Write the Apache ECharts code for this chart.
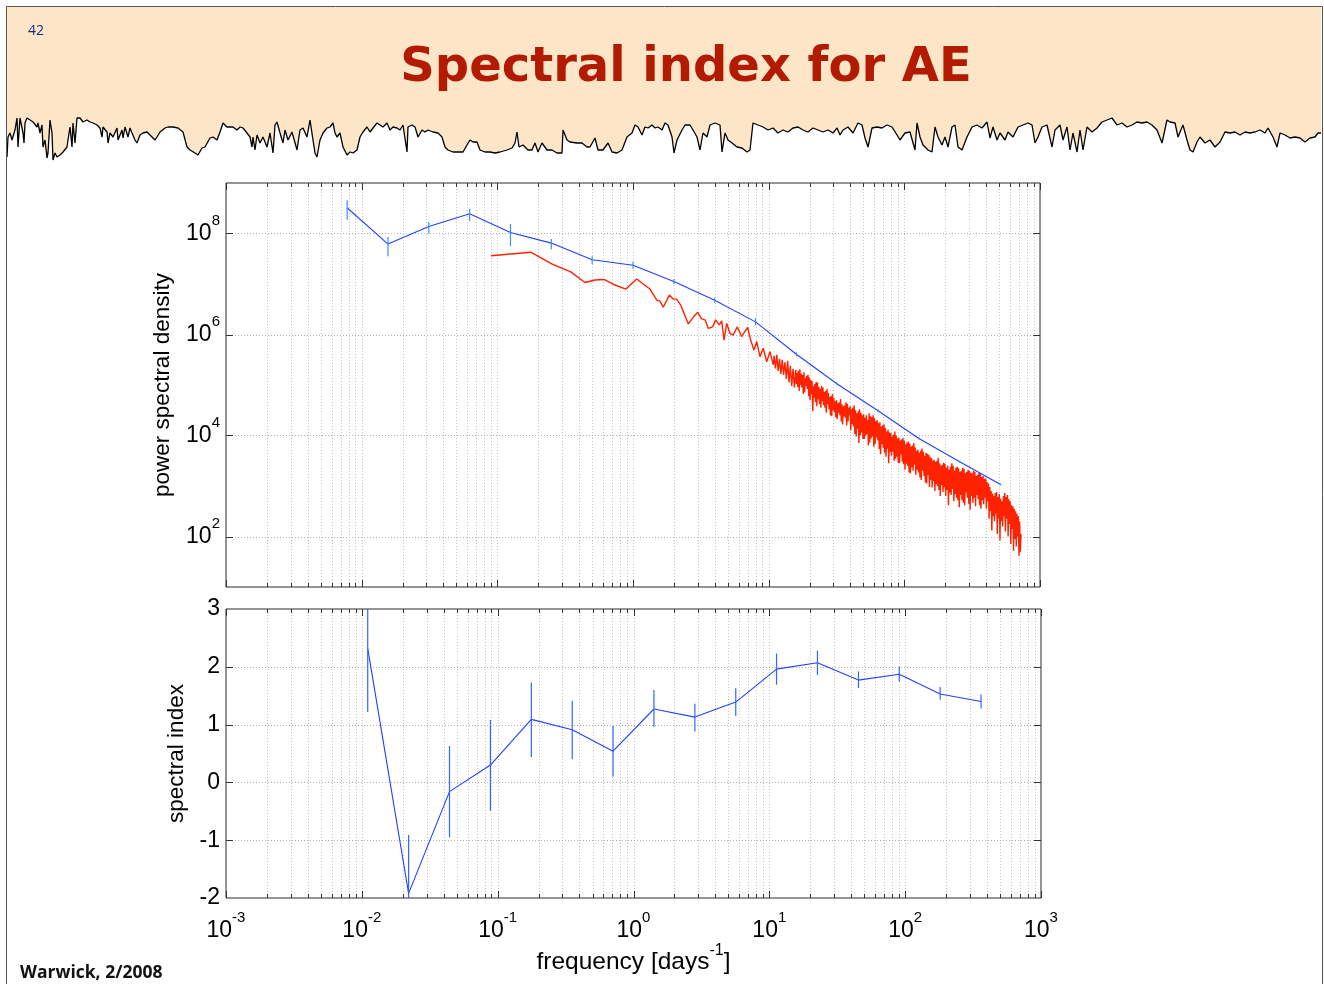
<!DOCTYPE html>
<html><head><meta charset="utf-8">
<script src="https://cdn.jsdelivr.net/npm/echarts@6/dist/echarts.min.js"></script>
<style>html,body{margin:0;padding:0;background:#fff}#c{width:1324px;height:984px}</style>
</head><body><div id="c"></div>
<script>
// ---------- data ----------
// binned PSD (blue), frequency in days^-1, log10 of power
const blueFreq = [0.0078125,0.015625,0.03125,0.0625,0.125,0.25,0.5,1,2,4,8,16,32,64,128,256,512];
const blueLogPSD = [8.51,7.79,8.14,8.39,8.02,7.81,7.48,7.37,7.05,6.68,6.25,5.61,5.02,4.49,3.94,3.48,3.03];
const blueLogLow = [8.27,7.55,8.00,8.25,7.75,7.69,7.39,7.30,7.00,6.63,6.18,5.57,4.99,4.46,3.92,3.46,3.01];
const blueLogHigh = [8.66,7.93,8.23,8.49,8.19,7.89,7.55,7.44,7.10,6.73,6.32,5.65,5.05,4.52,3.97,3.50,3.05];

// raw periodogram (red): log10 frequency, log10 power
const redLogFreq = [
-1.047,-0.754,-0.599,-0.459,-0.354,-0.280,-0.214,-0.133,-0.052,0.027,
0.125,0.175,0.199,0.223,0.268,0.297,0.322,0.352,0.376,0.408,
0.444,0.477,0.506,0.531,0.555,0.587,0.609,0.636,0.654,0.671,
0.691,0.715,0.739,0.769,0.801,0.825,0.845,0.867,0.892,0.912,
0.936,0.960,0.985,1.010,1.034,
1.04,1.05,1.06,1.07,1.08,1.09,
1.10,1.11,1.12,1.13,1.14,1.15,1.16,1.17,1.18,1.19,
1.200,1.205,1.210,1.215,1.220,1.225,1.230,1.235,1.240,1.245,1.250,1.255,1.260,1.265,1.270,1.275,1.280,1.285,1.290,1.295,
1.300,1.305,1.310,1.315,1.320,1.325,1.330,1.335,1.340,1.345,1.350,1.355,1.360,1.365,1.370,1.375,1.380,1.385,1.390,1.395,
1.400,1.405,1.410,1.415,1.420,1.425,1.430,1.435,1.440,1.445,1.450,1.455,1.460,1.465,1.470,1.475,1.480,1.485,1.490,1.495,
1.500,1.505,1.510,1.515,1.520,1.525,1.530,1.535,1.540,1.545,1.550,1.555,1.560,1.565,1.570,1.575,1.580,1.585,1.590,1.595,
1.600,1.605,1.610,1.615,1.620,1.625,1.630,1.635,1.640,1.645,1.650,1.655,1.660,1.665,1.670,1.675,1.680,1.685,1.690,1.695,
1.700,1.705,1.710,1.715,1.720,1.725,1.730,1.735,1.740,1.745,1.750,1.755,1.760,1.765,1.770,1.775,1.780,1.785,1.790,1.795,
1.800,1.805,1.810,1.815,1.820,1.825,1.830,1.835,1.840,1.845,1.850,1.855,1.860,1.865,1.870,1.875,1.880,1.885,1.890,1.895,
1.900,1.905,1.910,1.915,1.920,1.925,1.930,1.935,1.940,1.945,1.950,1.955,1.960,1.965,1.970,1.975,1.980,1.985,1.990,1.995,
2.000,2.005,2.010,2.015,2.020,2.025,2.030,2.035,2.040,2.045,2.050,2.055,2.060,2.065,2.070,2.075,2.080,2.085,2.090,2.095,
2.100,2.105,2.110,2.115,2.120,2.125,2.130,2.135,2.140,2.145,2.150,2.155,2.160,2.165,2.170,2.175,2.180,2.185,2.190,2.195,
2.200,2.205,2.210,2.215,2.220,2.225,2.230,2.235,2.240,2.245,2.250,2.255,2.260,2.265,2.270,2.275,2.280,2.285,2.290,2.295,
2.300,2.305,2.310,2.315,2.320,2.325,2.330,2.335,2.340,2.345,2.350,2.355,2.360,2.365,2.370,2.375,2.380,2.385,2.390,2.395,
2.400,2.405,2.410,2.415,2.420,2.425,2.430,2.435,2.440,2.445,2.450,2.455,2.460,2.465,2.470,2.475,2.480,2.485,2.490,2.495,
2.500,2.505,2.510,2.515,2.520,2.525,2.530,2.535,2.540,2.545,2.550,2.555,2.560,2.565,2.570,2.575,2.580,2.585,2.590,2.595,
2.600,2.605,2.610,2.615,2.620,2.625,2.630,2.635,2.640,2.645,2.650,2.655,2.660,2.665,2.670,2.675,2.680,2.685,2.690,2.695,
2.700,2.705,2.710,2.715,2.720,2.725,2.730,2.735,2.740,2.745,2.750,2.755,2.760,2.765,2.770,2.775,2.780,2.785,2.790,2.795,
2.800,2.805,2.810,2.815,2.820,2.825,2.830,2.835,2.840,2.845,2.850,2.855,2.860];
const redLogPSD = [
7.56,7.63,7.40,7.24,7.03,7.08,7.09,6.98,6.90,7.10,
6.90,6.68,6.66,6.54,6.78,6.70,6.70,6.58,6.42,6.21,
6.34,6.44,6.31,6.29,6.12,6.15,6.29,6.19,6.27,5.89,
6.22,6.02,5.99,6.15,5.96,6.06,6.14,5.89,5.69,5.86,
5.56,5.73,5.46,5.66,5.40,
5.58,5.33,5.60,5.28,5.52,5.22,
5.50,5.20,5.45,5.12,5.48,5.05,5.38,4.98,5.32,4.95,
5.30,5.02,5.24,4.96,5.28,4.88,5.31,5.00,5.22,4.95,5.20,4.82,5.25,4.85,5.14,4.98,5.18,4.92,5.20,4.78,
5.15,4.70,5.10,4.82,5.08,4.48,4.98,4.75,5.02,4.66,5.06,4.58,5.05,4.72,4.96,4.62,4.92,4.55,4.98,4.68,
4.95,4.60,4.86,4.55,4.88,4.45,4.92,4.62,4.84,4.52,4.76,4.40,4.78,4.38,4.82,4.50,4.74,4.46,4.68,4.36,
4.70,4.32,4.64,4.45,4.66,4.40,4.72,4.28,4.62,4.22,4.58,4.38,4.60,4.35,4.66,4.20,4.63,4.28,4.55,4.40,
4.58,4.10,4.52,4.23,4.55,4.18,4.60,4.03,4.50,3.98,4.44,4.13,4.48,3.85,4.52,4.00,4.45,4.06,4.40,3.93,
4.42,3.93,4.35,4.00,4.40,4.03,4.30,3.80,4.44,3.86,4.38,3.94,4.36,3.98,4.40,3.78,4.34,3.83,4.28,3.96,
4.30,3.90,4.24,3.73,4.26,3.63,4.18,3.83,4.20,3.76,4.22,3.66,4.15,3.58,4.08,3.74,4.12,3.45,4.06,3.68,
4.05,3.60,3.98,3.68,4.02,3.50,4.08,3.54,4.00,3.58,3.94,3.46,3.96,3.45,3.90,3.63,3.92,3.48,3.95,3.43,
3.90,3.32,3.82,3.44,3.86,3.40,3.88,3.27,3.84,3.25,3.78,3.37,3.80,3.30,3.85,3.42,3.76,3.22,3.70,3.32,
3.72,3.27,3.66,3.17,3.70,3.12,3.74,3.30,3.68,3.20,3.60,3.07,3.66,3.05,3.64,3.22,3.62,2.98,3.58,3.12,
3.55,2.97,3.50,3.10,3.52,2.90,3.48,3.04,3.50,3.00,3.56,2.92,3.45,2.80,3.40,3.02,3.42,2.88,3.46,2.97,
3.44,2.80,3.36,2.92,3.40,2.62,3.32,2.87,3.38,2.82,3.45,2.94,3.40,2.70,3.30,2.84,3.36,2.77,3.38,2.72,
3.35,2.58,3.28,2.82,3.30,2.72,3.36,2.67,3.34,2.62,3.25,2.87,3.28,2.77,3.32,2.65,3.30,2.53,3.26,2.80,
3.25,2.67,3.30,2.77,3.28,2.60,3.20,2.82,3.22,2.74,3.26,2.62,3.24,2.55,3.18,2.72,3.20,2.64,3.14,2.77,
3.15,2.55,3.08,2.70,3.05,2.35,2.98,2.50,2.90,2.12,2.85,2.40,2.80,2.30,2.86,2.45,2.88,2.05,2.78,2.35,
2.84,1.92,2.75,2.30,2.70,2.20,2.80,2.40,2.86,2.10,2.78,2.35,2.82,2.00,2.74,2.25,2.70,1.85,2.62,2.15,
2.60,1.72,2.55,1.95,2.50,1.80,2.45,2.00,2.40,1.62,2.30,1.70,2.05];

// spectral index (lower panel)
const idxFreq = [0.01105,0.0221,0.0442,0.0884,0.177,0.354,0.707,1.414,2.83,5.66,11.3,22.6,45.3,90.5,181,362];
const idxValue = [2.32,-1.92,-0.16,0.30,1.09,0.91,0.54,1.27,1.13,1.39,1.96,2.07,1.77,1.87,1.53,1.40];
const idxLow = [1.22,-2.93,-0.95,-0.49,0.44,0.40,0.10,0.96,0.88,1.15,1.69,1.86,1.63,1.74,1.43,1.28];
const idxHigh = [3.42,-0.91,0.63,1.08,1.73,1.41,0.98,1.60,1.36,1.63,2.23,2.28,1.92,2.00,1.65,1.52];

// tick values
const psdTickValues = [1e2,1e4,1e6,1e8];
const idxTickValues = [-1,0,1,2];
const decadeExps = [-3,-2,-1,0,1,2];
const decadeMults = [1,2,3,4,5,6,7,8,9];

// AE time series in header: [hour, AE (nT)]
const aeTrace = [
[0,160],[1,560],[3,640],[5,500],[8,700],[10,940],[11,360],[13,940],[15,900],[16,640],
[17,440],[18,840],[20,940],[23,900],[26,860],[28,900],[30,760],[31,840],[33,640],[35,800],
[36,360],[38,500],[40,140],[41,240],[43,900],[45,640],[46,100],[48,240],[50,160],[53,200],
[56,260],[60,360],[61,500],[63,760],[65,360],[66,840],[68,440],[70,940],[73,940],[76,860],
[80,900],[83,860],[86,840],[90,800],[93,740],[95,560],[96,760],[100,660],[101,440],[103,640],
[106,560],[110,740],[111,500],[115,700],[116,540],[118,760],[121,560],[123,740],[125,640],[128,500],
[130,440],[133,600],[136,640],[140,660],[145,560],[148,500],[150,560],[153,660],[158,740],[161,760],
[166,760],[171,740],[176,660],[180,360],[183,300],[188,240],[191,200],[195,340],[198,360],[203,540],
[206,560],[210,500],[213,660],[216,840],[220,760],[226,760],[230,700],[233,760],[236,740],[240,640],
[243,560],[245,360],[246,560],[248,300],[250,600],[253,440],[256,560],[260,360],[263,640],[266,240],
[268,800],[270,860],[273,640],[276,440],[278,700],[281,500],[285,660],[290,300],[293,700],[296,740],
[300,560],[303,900],[305,940],[306,500],[308,240],[310,160],[313,500],[316,640],[320,740],[323,760],
[326,840],[328,640],[330,560],[333,640],[336,360],[340,200],[343,260],[346,240],[350,300],[353,560],
[356,660],[360,760],[363,660],[366,740],[370,840],[373,800],[376,760],[380,840],[383,700],[386,760],
[390,740],[393,700],[396,800],[400,260],[401,760],[405,800],[408,760],[411,560],[415,700],[418,660],
[421,700],[426,660],[431,640],[435,560],[438,360],[441,300],[446,260],[451,260],[456,260],[460,400],
[463,500],[466,460],[470,460],[473,300],[478,260],[483,260],[488,240],[493,260],[500,300],[505,340],
[508,440],[510,660],[512,360],[516,400],[521,300],[525,300],[528,440],[531,260],[535,440],[540,300],
[545,300],[550,240],[555,240],[556,700],[560,500],[563,460],[570,440],[575,440],[580,360],[583,360],
[588,540],[591,300],[596,300],[601,440],[605,260],[610,240],[615,300],[620,560],[625,640],[628,800],
[631,760],[635,600],[638,760],[641,740],[645,800],[648,740],[651,760],[655,700],[658,840],[661,800],
[665,560],[667,240],[670,500],[675,700],[678,800],[683,800],[686,700],[690,560],[693,300],[696,640],
[700,560],[703,800],[708,840],[713,800],[715,260],[718,640],[721,500],[725,440],[730,360],[735,340],
[740,260],[743,300],[746,840],[751,800],[756,760],[761,700],[766,740],[771,640],[776,700],[781,660],
[786,740],[791,760],[796,700],[801,660],[806,740],[811,700],[816,660],[821,700],[826,640],[830,740],
[833,600],[836,700],[841,760],[846,640],[851,840],[855,800],[858,540],[861,360],[865,740],[870,760],
[875,740],[880,800],[885,760],[890,600],[893,500],[898,640],[903,660],[908,300],[910,840],[913,560],
[916,400],[921,300],[925,260],[928,760],[931,560],[935,400],[938,560],[941,360],[945,760],[948,800],
[951,360],[955,300],[960,560],[965,760],[970,800],[975,740],[980,860],[983,540],[986,760],[990,500],
[993,640],[998,500],[1001,660],[1006,560],[1011,760],[1016,800],[1021,840],[1025,800],[1028,440],[1031,560],
[1035,760],[1040,800],[1045,360],[1048,700],[1053,800],[1056,500],[1060,760],[1063,300],[1066,640],[1070,260],
[1073,700],[1076,300],[1080,760],[1085,660],[1090,740],[1095,860],[1100,900],[1105,940],[1110,800],[1115,840],
[1120,760],[1125,800],[1130,860],[1135,840],[1140,860],[1145,800],[1150,700],[1155,440],[1160,900],[1163,860],
[1168,840],[1171,560],[1176,800],[1180,500],[1183,300],[1186,260],[1190,460],[1193,560],[1198,440],[1203,500],
[1208,360],[1213,460],[1218,660],[1223,640],[1228,660],[1233,600],[1238,660],[1243,640],[1248,660],[1253,700],
[1258,640],[1261,740],[1266,560],[1270,360],[1273,640],[1278,600],[1283,540],[1288,560],[1293,540],[1298,460],
[1303,540],[1308,560],[1311,640],[1314,640]];

// ---------- chart ----------
const FONT = "'Liberation Sans', Arial, Helvetica, sans-serif";
const chart = echarts.init(document.getElementById('c'));

function expOf(v){ return Math.round(Math.log10(v)); }
const supRich = {
  b: {fontSize: 23, fontFamily: FONT, color: '#000', lineHeight: 32, verticalAlign: 'bottom'},
  s: {fontSize: 15, fontFamily: FONT, color: '#000', verticalAlign: 'top'}
};

const xTickData = [];
decadeExps.forEach(function(d){
  decadeMults.forEach(function(m){
    xTickData.push([m * Math.pow(10, d), m === 1 ? 1 : 0, (d === -3 && m === 1) ? 1 : 0]);
  });
});
xTickData.push([1000, 1, 1]);

function vDecor(yRef){
  return function(params, api){
    const cs = params.coordSys;
    const x = Math.round(api.coord([api.value(0), yRef])[0]) + 0.5;
    const top = cs.y, bot = cs.y + cs.height;
    const len = api.value(1) ? 7 : 4;
    const ch = [];
    if (!api.value(2)) ch.push({type:'line', shape:{x1:x,y1:top,x2:x,y2:bot}, style:{stroke:'#c2c2c2', lineWidth:1, lineDash:[1,2]}});
    ch.push({type:'line', shape:{x1:x,y1:bot,x2:x,y2:bot-len}, style:{stroke:'#333', lineWidth:1}});
    ch.push({type:'line', shape:{x1:x,y1:top,x2:x,y2:top+len}, style:{stroke:'#333', lineWidth:1}});
    return {type:'group', children:ch};
  };
}
function hDecor(params, api){
  const cs = params.coordSys;
  const y = Math.round(api.coord([api.value(0), api.value(1)])[1]) + 0.5;
  const l = cs.x, r = cs.x + cs.width;
  return {type:'group', children:[
    {type:'line', shape:{x1:l,y1:y,x2:r,y2:y}, style:{stroke:'#b0b0b0', lineWidth:1, lineDash:[1,2]}},
    {type:'line', shape:{x1:l,y1:y,x2:l+7,y2:y}, style:{stroke:'#333', lineWidth:1}},
    {type:'line', shape:{x1:r,y1:y,x2:r-7,y2:y}, style:{stroke:'#333', lineWidth:1}}
  ]};
}
function errBar(color){
  return function(params, api){
    const cs = params.coordSys;
    const a = api.coord([api.value(0), api.value(1)]);
    const b = api.coord([api.value(0), api.value(2)]);
    const lo = cs.y, hi = cs.y + cs.height;
    const y1 = Math.min(Math.max(a[1], lo), hi), y2 = Math.min(Math.max(b[1], lo), hi);
    return {type:'line', shape:{x1:a[0], y1:y1, x2:a[0], y2:y2}, style:{stroke:color, lineWidth:1.2}};
  };
}

const option = {
  backgroundColor: '#fff',
  animation: false,
  grid: [
    {left:226, top:183, width:814, height:404, show:true, borderColor:'#2b2b2b', borderWidth:1, backgroundColor:'rgba(0,0,0,0)', outerBoundsMode:'none'},
    {left:226, top:609, width:815, height:289, show:true, borderColor:'#2b2b2b', borderWidth:1, backgroundColor:'rgba(0,0,0,0)', outerBoundsMode:'none'},
    {left:7, top:7, width:1315, height:158, show:false, outerBoundsMode:'none'}
  ],
  xAxis: [
    {type:'log', logBase:10, gridIndex:0, min:0.001, max:1000, axisLine:{show:false}, axisTick:{show:false}, axisLabel:{show:false}, splitLine:{show:false}},
    {type:'log', logBase:10, gridIndex:1, min:0.001, max:1000, axisLine:{show:false}, axisTick:{show:false}, splitLine:{show:false},
      axisLabel:{margin:12, formatter:function(v){ return '{b|10}{s|' + expOf(v) + '}'; }, rich:supRich},
      name:'{a|frequency [days}{s|-1}{a|]}', nameLocation:'middle', nameGap:45,
      nameTextStyle:{rich:{
        a:{fontSize:24.5, fontFamily:FONT, color:'#000', lineHeight:32, verticalAlign:'bottom'},
        s:{fontSize:16, fontFamily:FONT, color:'#000', verticalAlign:'top'}
      }}},
    {type:'value', gridIndex:2, min:0, max:1315, show:false}
  ],
  yAxis: [
    {type:'log', logBase:10, gridIndex:0, min:10, max:1e9, axisLine:{show:false}, axisTick:{show:false}, splitLine:{show:false},
      axisLabel:{margin:6, padding:[0,0,9,0], formatter:function(v){ const e = expOf(v); return (e % 2) ? '' : '{b|10}{s|' + e + '}'; }, rich:supRich},
      name:'power spectral density', nameLocation:'middle', nameGap:52,
      nameTextStyle:{fontSize:22.5, fontFamily:FONT, color:'#000'}},
    {type:'value', gridIndex:1, min:-2, max:3, interval:1, axisLine:{show:false}, axisTick:{show:false}, splitLine:{show:false},
      axisLabel:{margin:6, fontSize:23, fontFamily:FONT, color:'#000'},
      name:'spectral index', nameLocation:'middle', nameGap:37,
      nameTextStyle:{fontSize:22.5, fontFamily:FONT, color:'#000'}},
    {type:'value', gridIndex:2, min:0, max:3160, show:false}
  ],
  series: [
    {type:'line', xAxisIndex:2, yAxisIndex:2, data:aeTrace, symbol:'none', z:1,
      lineStyle:{color:'#000', width:1.3}, areaStyle:{color:'#fde5c8', opacity:1, origin:'end'}},
    {type:'custom', xAxisIndex:0, yAxisIndex:0, data:xTickData, renderItem:vDecor(1e5), z:1, silent:true},
    {type:'custom', xAxisIndex:0, yAxisIndex:0, data:psdTickValues.map(function(v){ return [1, v]; }), renderItem:hDecor, z:1, silent:true},
    {type:'custom', xAxisIndex:1, yAxisIndex:1, data:xTickData, renderItem:vDecor(0), z:1, silent:true},
    {type:'custom', xAxisIndex:1, yAxisIndex:1, data:idxTickValues.map(function(v){ return [1, v]; }), renderItem:hDecor, z:1, silent:true},
    {type:'line', xAxisIndex:0, yAxisIndex:0, symbol:'none', z:3, sampling:null,
      data:redLogFreq.map(function(f, i){ return [Math.pow(10, f), Math.pow(10, redLogPSD[i])]; }),
      lineStyle:{color:'#ff2200', width:1.4}},
    {type:'line', xAxisIndex:0, yAxisIndex:0, symbol:'none', z:4,
      data:blueFreq.map(function(f, i){ return [f, Math.pow(10, blueLogPSD[i])]; }),
      lineStyle:{color:'#2440ff', width:1.1}},
    {type:'custom', xAxisIndex:0, yAxisIndex:0, z:5, renderItem:errBar('#3a8fff'),
      data:blueFreq.map(function(f, i){ return [f, Math.pow(10, blueLogLow[i]), Math.pow(10, blueLogHigh[i])]; })},
    {type:'line', xAxisIndex:1, yAxisIndex:1, symbol:'none', z:4,
      data:idxFreq.map(function(f, i){ return [f, idxValue[i]]; }),
      lineStyle:{color:'#2440ff', width:1.1}},
    {type:'custom', xAxisIndex:1, yAxisIndex:1, z:5, renderItem:errBar('#3366ff'),
      data:idxFreq.map(function(f, i){ return [f, idxLow[i], idxHigh[i]]; })}
  ],
  graphic: [
    {type:'rect', z:100, silent:true, shape:{x:6.5, y:6.5, width:1316, height:1000}, style:{fill:'none', stroke:'#555', lineWidth:1}},
    {type:'text', z:100, x:686, y:69, style:{text:'Spectral index for AE', fontSize:48, fontWeight:'bold', fontFamily:"'DejaVu Sans', Verdana, sans-serif", fill:'#b31b00', align:'center', verticalAlign:'middle'}},
    {type:'text', z:100, x:28, y:31, style:{text:'42', fontSize:14, fontFamily:"'Open Sans', sans-serif", fill:'#1a2a8c', align:'left', verticalAlign:'middle'}},
    {type:'text', z:100, x:20, y:973, style:{text:'Warwick, 2/2008', fontSize:17.5, fontWeight:'bold', fontFamily:"'Open Sans', sans-serif", fill:'#111', align:'left', verticalAlign:'middle'}}
  ]
};
chart.setOption(option);
</script></body></html>
